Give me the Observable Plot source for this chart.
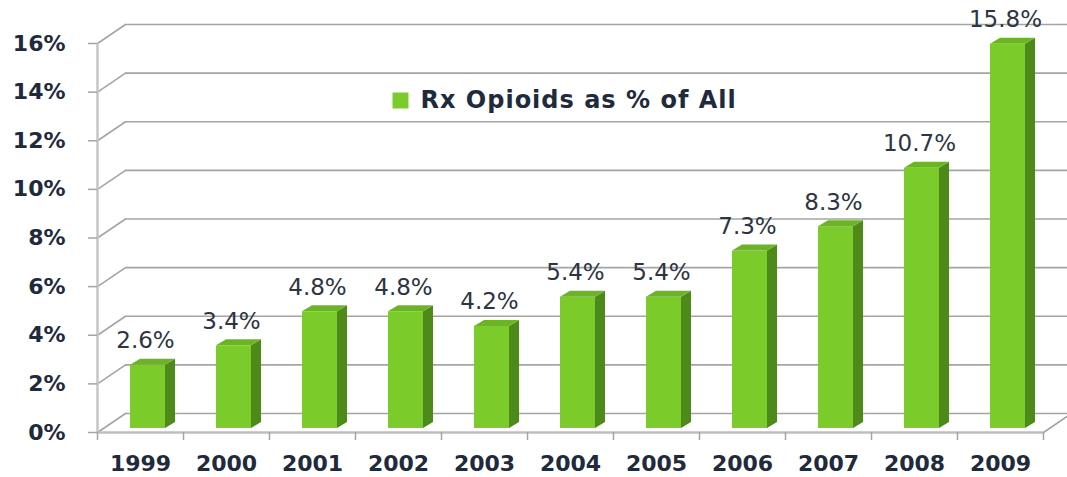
<!DOCTYPE html>
<html><head><meta charset="utf-8">
<script src="https://cdn.jsdelivr.net/npm/d3@7"></script>
<script src="https://cdn.jsdelivr.net/npm/@observablehq/plot@0.6"></script>
<style>
html,body{margin:0;padding:0;background:#fff;}
#chart svg{display:block;}
</style></head><body><div id="chart"></div>
<script>
const years = ["1999","2000","2001","2002","2003","2004","2005","2006","2007","2008","2009"];
const values = [2.6,3.4,4.8,4.8,4.2,5.4,5.4,7.3,8.3,10.7,15.8];
const valueLabels = ["2.6%","3.4%","4.8%","4.8%","4.2%","5.4%","5.4%","7.3%","8.3%","10.7%","15.8%"];
const yTicks = [0,2,4,6,8,10,12,14,16];
const yTickLabels = ["0%","2%","4%","6%","8%","10%","12%","14%","16%"];
const legendLabel = "Rx Opioids as % of All";

const data = years.map((year, i) => ({i, year, value: values[i], label: valueLabels[i]}));
const boundaries = d3.range(years.length + 1);
const centers = years.map((_, i) => i + 0.5);

const green = "#7bcb2a", sideGreen = "#4e8a1a", topGreen = "#6cb426";
const grid = "#a4a4a4";
const depthDx = 28, depthDy = -19;
const depthAngle = Math.atan2(depthDx, -depthDy) * 180 / Math.PI;
const depthLen = Math.hypot(depthDx, depthDy);
const lineShape = {draw(ctx, l) { ctx.moveTo(0, 0); ctx.lineTo(0, -l); }};
const textColor = "#1f2a3d";

const chart = Plot.plot({
  width: 1067, height: 477,
  marginLeft: 97, marginRight: 24, marginTop: 43, marginBottom: 45,
  x: {type: "linear", domain: [0, years.length], axis: null, label: null},
  y: {domain: [0, 16], axis: null, label: null},
  marks: [
    Plot.ruleY(yTicks, {x1: 0, x2: years.length, dx: depthDx, dy: depthDy, stroke: grid, strokeWidth: 1.6}),
    Plot.vector(yTicks, {x: 0, y: d => d, length: depthLen, rotate: depthAngle, anchor: "start", shape: lineShape, stroke: grid, strokeWidth: 1.6}),
    Plot.vector([0], {x: years.length, y: d => d, length: depthLen, rotate: depthAngle, anchor: "start", shape: lineShape, stroke: grid, strokeWidth: 1.6}),
    Plot.ruleX([0], {y1: 0, y2: 16, stroke: "#c6c6c6", strokeWidth: 2.5}),
    Plot.ruleY([0], {x1: 0, x2: years.length, stroke: "#bebebe", strokeWidth: 2.5}),
    Plot.axisY({ticks: yTicks, tickFormat: d => yTickLabels[yTicks.indexOf(d)], tickSize: 9, tickPadding: 23, label: null,
      fontSize: 22, fontWeight: "bold", fontFamily: "DejaVu Sans", fill: textColor, stroke: grid, strokeWidth: 1.5}),
    Plot.axisX({ticks: boundaries, tickFormat: () => "", tickSize: 8, label: null, stroke: grid, strokeWidth: 1.5}),
    Plot.axisX({ticks: centers, tickFormat: d => years[Math.floor(d)], tickSize: 0, tickPadding: 23, label: null,
      fontSize: 22, fontWeight: "bold", fontFamily: "DejaVu Sans", fill: textColor}),
    Plot.rect(data, {x1: "i", x2: d => d.i + 1, y1: 0, y2: "value", insetLeft: 33, insetRight: 18, dy: -4, fill: green}),
    Plot.rect(data, {x1: "i", x2: d => d.i + 1, y1: 0, y2: "value", insetLeft: 68, insetRight: 8, dy: -4, fill: sideGreen, ariaDescription: "bar-side"}),
    Plot.rect(data, {x1: "i", x2: d => d.i + 1, y1: "value", y2: "value", insetLeft: 33, insetRight: 18, insetTop: -6, dy: -4, fill: topGreen, ariaDescription: "bar-top"}),
    Plot.text(data, {x: d => d.i + 0.5, y: "value", text: "label", dx: 5, dy: -21, lineAnchor: "bottom",
      fontSize: 23, fontFamily: "DejaVu Sans", fill: "#2e3442"}),
    Plot.dot([legendLabel], {frameAnchor: "top-left", dx: 303, dy: 57, symbol: "square", r: 9, fill: green}),
    Plot.text([legendLabel], {text: d => d, frameAnchor: "top-left", dx: 323, dy: 57, textAnchor: "start", lineAnchor: "middle",
      fontSize: 24, fontWeight: "bold", fontFamily: "DejaVu Sans", fill: textColor, ariaDescription: "legend-label"})
  ]
});

const sideSkew = Math.atan2(6, 10) * 180 / Math.PI;
const topSkew = Math.atan2(10, 6) * 180 / Math.PI;
const root = d3.select(chart);
root.selectAll('g[aria-description="bar-side"] rect').attr("transform", function() {
  const x = +this.getAttribute("x");
  return `translate(${x},0) skewY(${-sideSkew}) translate(${-x},0)`;
});
root.selectAll('g[aria-description="bar-top"] rect').attr("transform", function() {
  const yb = +this.getAttribute("y") + +this.getAttribute("height");
  return `translate(0,${yb}) skewX(${-topSkew}) translate(0,${-yb})`;
});
root.selectAll('g[aria-description="legend-label"] text').style("letter-spacing", "1px");
document.getElementById("chart").appendChild(chart);
</script></body></html>
